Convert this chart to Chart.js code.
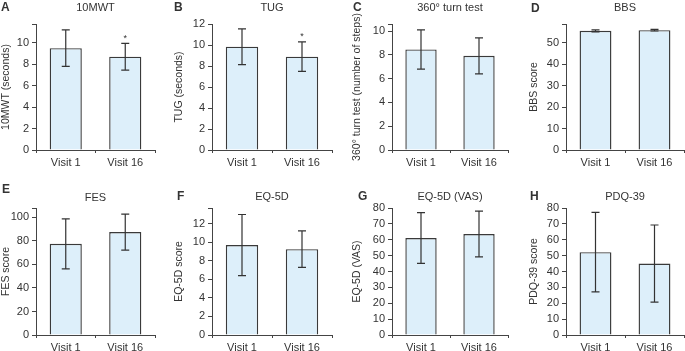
<!DOCTYPE html>
<html>
<head>
<meta charset="utf-8">
<script src="https://cdn.jsdelivr.net/npm/chart.js@4.4.1/dist/chart.umd.min.js"></script>
<style>
  body { margin: 0; background: #fff; width: 685px; height: 351px; position: relative; overflow: hidden; }
  canvas { position: absolute; }
</style>
</head>
<body>
<script>
// ---- data ----
const letters = ['A', 'B', 'C', 'D', 'E', 'F', 'G', 'H'];
const titles = ['10MWT', 'TUG', '360° turn test', 'BBS', 'FES', 'EQ-5D', 'EQ-5D (VAS)', 'PDQ-39'];
const yTitles = ['10MWT (seconds)', 'TUG (seconds)', '360° turn test (number of steps)', 'BBS score',
                 'FES score', 'EQ-5D score', 'EQ-5D (VAS)', 'PDQ-39 score'];
const visits = ['Visit 1', 'Visit 16'];
const means = [[9.5, 8.7], [9.84, 8.89], [8.46, 7.92], [55.5, 55.8],
               [77.5, 87.5], [9.7, 9.26], [61.1, 63.6], [52.2, 45.0]];
const sds = [[1.7, 1.25], [1.7, 1.4], [1.65, 1.52], [0.5, 0.35],
             [21.3, 15.3], [3.3, 1.97], [16, 14.4], [25, 24.3]];
const starred = [[false, true], [false, true], [false, false], [false, false],
                 [false, false], [false, false], [false, false], [false, false]];
const yMax = [11.75, 12, 10.6, 58.7, 108, 13.7, 80, 80];
const yStep = [2, 2, 2, 10, 20, 2, 10, 10];

// ---- layout (page pixels) ----
const colLeft = [0, 173, 351, 528];
const colAxis = [36, 212, 392, 566];
const colRight = [155, 332, 508, 684];
const rowTop = [0, 175];
const rowH = [175, 176];
const rowPlotTop = [24, 33];
const rowAxis = [150, 160];
const letterX = [1, 174, 353, 531, 2, 177, 358, 530];
const letterY = [8, 8, 8, 9, 15, 22, 22, 22];
const titleY = [8, 8, 8, 8, 23, 22, 22, 22];

Chart.defaults.font.family = '"Liberation Sans", Arial, sans-serif';
Chart.defaults.color = '#333';

function decor(i, left) {
  return {
    id: 'decor' + i,
    afterDatasetsDraw(chart) {
      const ctx = chart.ctx, y = chart.scales.y, area = chart.chartArea;
      const bars = chart.getDatasetMeta(0).data;
      ctx.save();
      ctx.strokeStyle = '#333';
      ctx.lineWidth = 1.2;
      ctx.fillStyle = '#333';
      bars.forEach((bar, j) => {
        const top = y.getPixelForValue(means[i][j] + sds[i][j]);
        const bot = y.getPixelForValue(means[i][j] - sds[i][j]);
        ctx.beginPath();
        ctx.moveTo(bar.x, top); ctx.lineTo(bar.x, bot);
        ctx.moveTo(bar.x - 4, top); ctx.lineTo(bar.x + 4, top);
        ctx.moveTo(bar.x - 4, bot); ctx.lineTo(bar.x + 4, bot);
        ctx.stroke();
        if (starred[i][j]) {
          ctx.font = '9px "Liberation Sans", Arial, sans-serif';
          ctx.textAlign = 'center';
          ctx.textBaseline = 'middle';
          ctx.fillText('*', bar.x, top - 5);
        }
      });
      ctx.textBaseline = 'middle';
      ctx.textAlign = 'center';
      ctx.font = '11px "Liberation Sans", Arial, sans-serif';
      ctx.fillText(titles[i], (area.left + area.right) / 2, titleY[i]);
      ctx.textAlign = 'left';
      ctx.font = 'bold 12px "Liberation Sans", Arial, sans-serif';
      ctx.fillText(letters[i], letterX[i] - left, letterY[i]);
      ctx.restore();
    }
  };
}

for (let i = 0; i < 8; i++) {
  const c = i % 4, r = Math.floor(i / 4);
  const left = colLeft[c];
  const width = Math.min(685, colRight[c] + 4) - left;
  const canvas = document.createElement('canvas');
  canvas.width = width;
  canvas.height = rowH[r];
  canvas.style.left = left + 'px';
  canvas.style.top = rowTop[r] + 'px';
  document.body.appendChild(canvas);

  const yw = colAxis[c] - left;
  const xh = rowH[r] - rowAxis[r];

  new Chart(canvas.getContext('2d'), {
    type: 'bar',
    data: {
      labels: visits,
      datasets: [{
        data: means[i],
        backgroundColor: '#ddeffa',
        borderColor: '#3a3a3a',
        borderWidth: 1.4,
        barPercentage: 0.54,
        categoryPercentage: 1
      }]
    },
    options: {
      responsive: false,
      animation: false,
      layout: { padding: { left: 0, top: rowPlotTop[r], right: width - (colRight[c] - left), bottom: 0 } },
      plugins: { legend: { display: false }, tooltip: { enabled: false } },
      scales: {
        x: {
          afterFit: s => { s.height = xh; },
          grid: { offset: true, drawOnChartArea: false, color: '#444', tickLength: 3 },
          border: { color: '#444', width: 1 },
          ticks: { font: { size: 11 }, color: '#333', padding: 3, maxRotation: 0, autoSkip: false }
        },
        y: {
          min: 0,
          max: yMax[i],
          afterFit: s => { s.width = yw; },
          afterBuildTicks: s => {
            const t = [];
            for (let v = 0; v <= yMax[i] + 1e-9; v += yStep[i]) t.push({ value: v });
            if (Math.abs(t[t.length - 1].value - yMax[i]) > 1e-9) t.push({ value: yMax[i] });
            s.ticks = t;
          },
          grid: { drawOnChartArea: false, color: '#444', tickLength: 4 },
          border: { color: '#444', width: 1 },
          ticks: {
            font: { size: 11 }, color: '#333', padding: 3, autoSkip: false,
            callback: v => (Math.abs(v / yStep[i] - Math.round(v / yStep[i])) < 1e-6 ? v : '')
          },
          title: { display: true, text: yTitles[i], font: { size: 10.5 }, color: '#333', padding: 0 }
        }
      }
    },
    plugins: [decor(i, left)]
  });
}
</script>
</body>
</html>
